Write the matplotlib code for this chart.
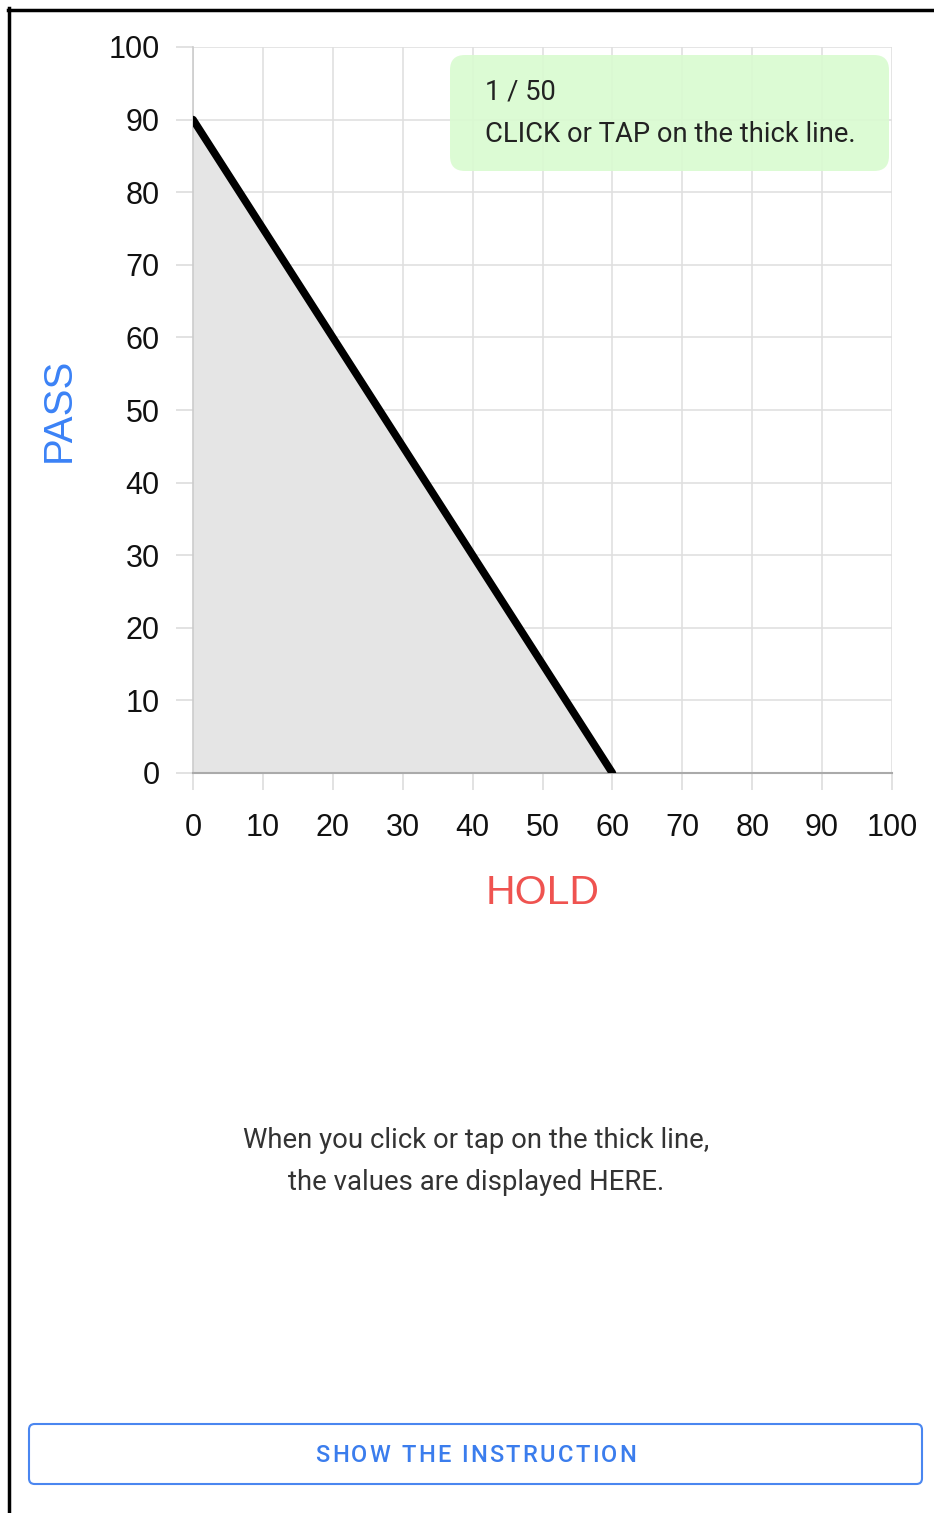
import matplotlib
matplotlib.use("Agg")
import matplotlib.pyplot as plt
from matplotlib.patches import FancyBboxPatch
from matplotlib.lines import Line2D

# Data
hold = [0, 60]
pass_ = [90, 0]
x_ticks = [0, 10, 20, 30, 40, 50, 60, 70, 80, 90, 100]
y_ticks = [0, 10, 20, 30, 40, 50, 60, 70, 80, 90, 100]

W, H = 934, 1513
fig = plt.figure(figsize=(W / 100, H / 100), dpi=100)
fig.patch.set_facecolor("white")

def fx(px):
    return px / W

def fy(py):
    return 1 - py / H

ax = fig.add_axes([fx(193), fy(773), fx(892) - fx(193), fy(47) - fy(773)])
ax.set_xlim(0, 100)
ax.set_ylim(0, 100)
ax.set_xticks(x_ticks)
ax.set_yticks(y_ticks)
ax.grid(True, color="#e0e0e0", linewidth=1.2, zorder=0)
ax.set_axisbelow(True)
for s in ["top", "right"]:
    ax.spines[s].set_visible(False)
ax.spines["left"].set_color("#cccccc")
ax.spines["left"].set_linewidth(1.2)
ax.spines["bottom"].set_color("#aaaaaa")
ax.spines["bottom"].set_linewidth(1.5)
ax.tick_params(axis="both", direction="out", length=12, width=1.2, color="#dddddd",
               labelsize=22, labelcolor="#111111")
ax.tick_params(axis="y", pad=12)
ax.tick_params(axis="x", pad=17)
for lab in ax.get_xticklabels() + ax.get_yticklabels():
    lab.set_fontfamily("Liberation Sans")

ax.fill_between(hold, pass_, 0, color="#e5e5e5", zorder=1, linewidth=0)
ax.plot(hold, pass_, color="black", linewidth=5.5, solid_capstyle="round", zorder=3)

ax.set_xlabel("HOLD", fontsize=29.5, color="#ef5350", family="Liberation Sans", labelpad=22)
ax.set_ylabel("PASS", fontsize=29, color="#3b82f6", family="Liberation Sans", labelpad=22)

# Green message box
box = FancyBboxPatch((fx(450), fy(171)), fx(889) - fx(450), fy(55) - fy(171),
                     boxstyle="round,pad=0,rounding_size=0.016",
                     transform=fig.transFigure, facecolor="#d9fbd0", edgecolor="none",
                     alpha=0.9, zorder=5, mutation_aspect=W / H)
fig.add_artist(box)
fig.text(fx(485), fy(92), "1 / 50", fontsize=19.7, family="Roboto", color="#222222",
         va="center", ha="left", zorder=6)
fig.text(fx(485), fy(134), "CLICK or TAP on the thick line.", fontsize=19.7, family="Roboto",
         color="#222222", va="center", ha="left", zorder=6)

# Bottom texts
fig.text(fx(476), fy(1140), "When you click or tap on the thick line,", fontsize=19.8,
         family="Roboto", color="#333333", ha="center", va="center")
fig.text(fx(476), fy(1182), "the values are displayed HERE.", fontsize=19.8,
         family="Roboto", color="#333333", ha="center", va="center")

# Button
btn = FancyBboxPatch((fx(29), fy(1484)), fx(922) - fx(29), fy(1424) - fy(1484),
                     boxstyle="round,pad=0,rounding_size=0.006",
                     transform=fig.transFigure, facecolor="white", edgecolor="#4a86f0",
                     linewidth=1.5, mutation_aspect=W / H)
fig.add_artist(btn)

# Letter-spaced button label
label = "SHOW THE INSTRUCTION"
renderer = fig.canvas.get_renderer()
tprops = dict(fontsize=17, family="Roboto", weight="medium", color="#3b7ded",
              va="center", ha="left")

def text_width(s):
    if not s:
        return 0.0
    t = fig.text(0, 0, s, **tprops)
    w = t.get_window_extent(renderer).width
    t.remove()
    return w

spacing = 2.35  # px
total = text_width(label) + spacing * (len(label) - 1)
x0 = 476 - total / 2
for i, ch in enumerate(label):
    if ch == " ":
        continue
    xi = x0 + text_width(label[:i]) + spacing * i
    fig.text(fx(xi), fy(1455), ch, **tprops)

# Frame border
fig.add_artist(Line2D([fx(8), 1], [fy(9.5), fy(9.5)], transform=fig.transFigure,
                      color="black", linewidth=2.5))
fig.add_artist(Line2D([fx(9), fx(9)], [0, fy(8)], transform=fig.transFigure,
                      color="black", linewidth=2.5))

fig.savefig("out.png", dpi=100, facecolor="white")
